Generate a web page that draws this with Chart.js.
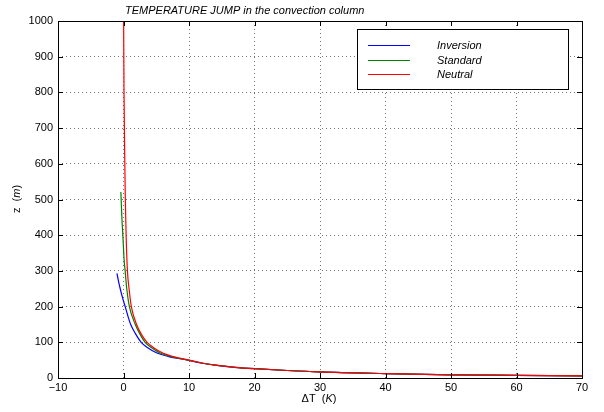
<!DOCTYPE html>
<html>
<head>
<meta charset="utf-8">
<script src="https://cdn.jsdelivr.net/npm/chart.js@4.4.1/dist/chart.umd.min.js"></script>
<style>
  html, body { margin: 0; padding: 0; background: #fff; }
  #wrap { width: 604px; height: 412px; }
</style>
</head>
<body>
<div id="wrap"><canvas id="c" width="604" height="412"></canvas></div>
<script>
// ── DATA ──
const X_TICKS = [-10, 0, 10, 20, 30, 40, 50, 60, 70];
const Y_TICKS = [0, 100, 200, 300, 400, 500, 600, 700, 800, 900, 1000];

const SERIES_NAMES   = ['Inversion', 'Standard', 'Neutral'];
const SERIES_COLOURS = ['#0000ff', '#008000', '#ff0000'];

// height z (m) and temperature jump ΔT (K), top of curve first
const inversionZ  = [293, 270, 250, 225, 200, 175, 150, 125, 100, 85, 70, 60, 50, 42, 36, 30, 26, 21, 17, 12.5, 9, 7.5, 6];
const inversionDT = [-1.0, -0.75, -0.5, -0.15, 0.26, 0.65, 1.1, 1.8, 2.7, 3.7, 5.1, 6.9, 9.8, 11.8, 14, 17, 20, 25, 30, 40, 50, 60, 70];

const standardZ  = [521, 450, 400, 330, 300, 250, 200, 150, 120, 100, 85, 70, 60, 50, 42, 36, 30, 26, 21, 17, 12.5, 9, 7.5, 6];
const standardDT = [-0.4, -0.25, -0.1, 0.1, 0.25, 0.5, 0.9, 1.8, 2.6, 3.3, 4.3, 5.6, 7.3, 9.9, 11.9, 14, 17, 20, 25, 30, 40, 50, 60, 70];

const neutralZ  = [1000, 800, 600, 500, 400, 300, 250, 200, 150, 120, 100, 85, 70, 60, 50, 42, 36, 30, 26, 21, 17, 12.5, 9, 7.5, 6];
const neutralDT = [0.02, 0.08, 0.2, 0.28, 0.4, 0.6, 0.85, 1.2, 2.0, 2.8, 3.6, 4.6, 6.0, 7.6, 10, 12, 14, 17, 20, 25, 30, 40, 50, 60, 70];

const SERIES_Z  = [inversionZ, standardZ, neutralZ];
const SERIES_DT = [inversionDT, standardDT, neutralDT];

const FONT = '"Liberation Sans", Arial, Helvetica, sans-serif';

// ── FRAME, TICKS, TITLE, LABELS, LEGEND ──
const decor = {
  id: 'decor',
  afterDraw(chart) {
    const { ctx, chartArea: a, scales: { x, y } } = chart;
    ctx.save();
    ctx.strokeStyle = '#000';
    ctx.lineWidth = 1;
    ctx.strokeRect(Math.round(a.left) + 0.5, Math.round(a.top) + 0.5,
                   Math.round(a.right - a.left), Math.round(a.bottom - a.top));
    const seg = (x1, y1, x2, y2) => { ctx.beginPath(); ctx.moveTo(x1, y1); ctx.lineTo(x2, y2); ctx.stroke(); };
    X_TICKS.forEach(v => {
      const px = Math.round(x.getPixelForValue(v)) + 0.5;
      seg(px, a.bottom, px, a.bottom - 5);
      seg(px, a.top, px, a.top + 5);
    });
    Y_TICKS.forEach(v => {
      const py = Math.round(y.getPixelForValue(v)) + 0.5;
      seg(a.left, py, a.left + 5, py);
      seg(a.right, py, a.right - 5, py);
    });

    ctx.fillStyle = '#000';
    // title
    ctx.font = 'italic 11px ' + FONT;
    ctx.textAlign = 'left';
    ctx.textBaseline = 'alphabetic';
    ctx.fillText('TEMPERATURE JUMP in the convection column', 125, 14);

    // mixed upright / italic label, centred on cx
    const mixed = (parts, cx, cy) => {
      const fonts = parts.map(p => (p[1] ? 'italic ' : '') + '11px ' + FONT);
      let w = 0;
      parts.forEach((p, i) => { ctx.font = fonts[i]; w += ctx.measureText(p[0]).width; });
      let px = cx - w / 2;
      ctx.textAlign = 'left';
      ctx.textBaseline = 'middle';
      parts.forEach((p, i) => { ctx.font = fonts[i]; ctx.fillText(p[0], px, cy); px += ctx.measureText(p[0]).width; });
    };
    mixed([['\u0394T  (', false], ['K', true], [')', false]], 319, 399);
    ctx.save();
    ctx.translate(17, 199);
    ctx.rotate(-Math.PI / 2);
    mixed([['z  (', false], ['m', true], [')', false]], 0, 0);
    ctx.restore();

    // legend
    ctx.fillStyle = '#fff';
    ctx.fillRect(357, 29, 211, 60);
    ctx.strokeStyle = '#000';
    ctx.strokeRect(357.5, 29.5, 211, 60);
    const rows = [45, 60, 74];
    chart.data.datasets.forEach((ds, i) => {
      ctx.strokeStyle = ds.borderColor;
      ctx.lineWidth = 1.2;
      seg(368, rows[i] + 0.5, 410, rows[i] + 0.5);
      ctx.fillStyle = '#000';
      ctx.font = 'italic 11px ' + FONT;
      ctx.textAlign = 'left';
      ctx.textBaseline = 'middle';
      ctx.fillText(ds.label, 437, rows[i] + 0.5);
    });
    ctx.restore();
  }
};

const datasets = SERIES_NAMES.map((name, i) => ({
  label: name,
  data: SERIES_Z[i].map((z, k) => ({ x: SERIES_DT[i][k], y: z })).sort((p, q) => p.x - q.x),
  borderColor: SERIES_COLOURS[i],
  backgroundColor: SERIES_COLOURS[i],
  borderWidth: 1.2,
  pointRadius: 0,
  showLine: true,
  cubicInterpolationMode: 'monotone',
  fill: false,
  order: SERIES_NAMES.length - 1 - i,   // Neutral drawn on top
}));

const tickFont = { family: FONT, size: 11 };

new Chart(document.getElementById('c'), {
  type: 'scatter',
  data: { datasets },
  options: {
    responsive: false,
    animation: false,
    events: [],
    layout: { padding: { top: 21, right: 22, left: 0, bottom: 0 } },
    plugins: { legend: { display: false }, tooltip: { enabled: false }, title: { display: false } },
    scales: {
      x: {
        type: 'linear', min: -10, max: 70,
        afterBuildTicks: s => { s.ticks = X_TICKS.map(v => ({ value: v })); },
        afterFit: s => { s.height = 34; },
        ticks: {
          color: '#000', font: tickFont, padding: 3, maxRotation: 0,
          callback: v => (v < 0 ? '\u2212' + Math.abs(v) : '' + v),
        },
        grid: { color: 'rgba(0,0,0,0.55)', lineWidth: 1, drawTicks: false },
        border: { display: false, dash: [1, 3] },
      },
      y: {
        type: 'linear', min: 0, max: 1000,
        afterBuildTicks: s => { s.ticks = Y_TICKS.map(v => ({ value: v })); },
        afterFit: s => { s.width = 58; },
        ticks: { color: '#000', font: tickFont, padding: 5, callback: v => '' + v },
        grid: { color: 'rgba(0,0,0,0.55)', lineWidth: 1, drawTicks: false },
        border: { display: false, dash: [1, 3] },
      },
    },
  },
  plugins: [decor],
});
</script>
</body>
</html>
